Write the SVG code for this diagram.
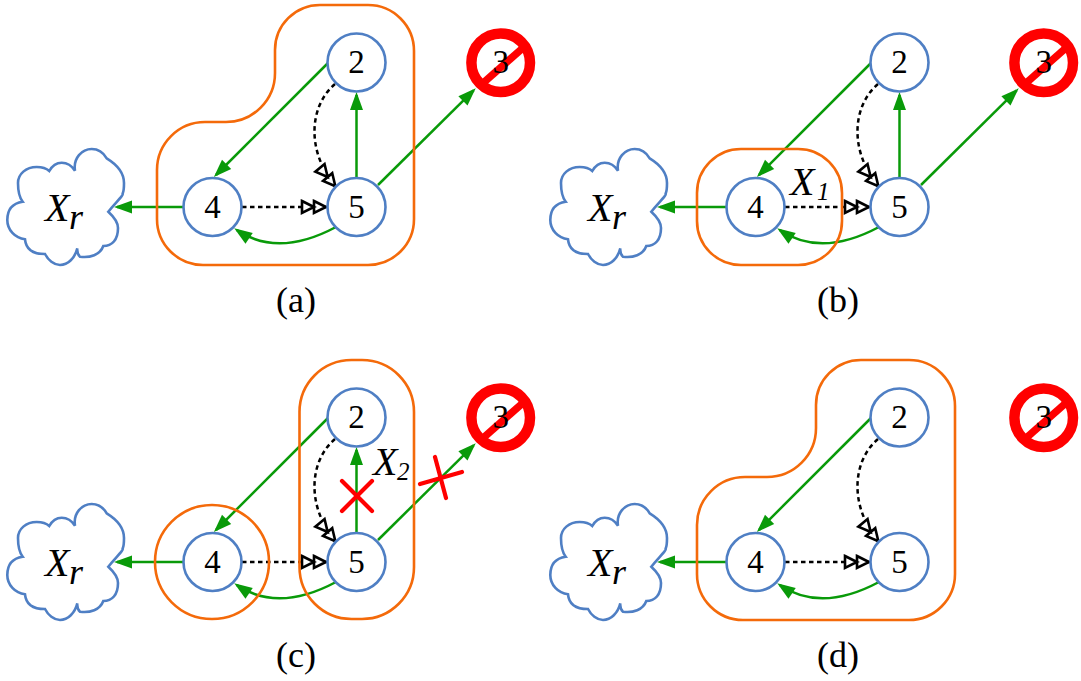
<svg xmlns="http://www.w3.org/2000/svg" xmlns:xlink="http://www.w3.org/1999/xlink" width="1081" height="681" viewBox="0 0 1081 681">
<style>
text{font-family:"Liberation Serif","Times New Roman",serif;fill:#000}
.n{font-size:33px;text-anchor:middle}
.cap{font-size:36px;text-anchor:middle}
.v{font-size:40px;font-style:italic}
.s{font-size:36px;font-style:italic}
.t{font-size:25px;font-style:italic}
.c{fill:#fff;stroke:#4f7fc4;stroke-width:2.6}
.o{fill:none;stroke:#f46a0a;stroke-width:2.6}
.g{fill:none;stroke:#099a09;stroke-width:2.5;marker-end:url(#ga)}
.d{fill:none;stroke:#000;stroke-width:2.5;stroke-dasharray:4.500 3.500;marker-end:url(#da)}
.r{fill:none;stroke:#f00;stroke-width:4.2;stroke-linecap:round}
.ring{fill:none;stroke:#f00;stroke-width:10.5}
.sl{stroke:#f00;stroke-width:7.5}
</style>
<defs>
<marker id="ga" markerUnits="userSpaceOnUse" markerWidth="20" markerHeight="16" refX="15" refY="6.500" orient="auto" overflow="visible"><path d="M0,0L18,6.500L0,13Z" fill="#099a09"/></marker>
<marker id="da" markerUnits="userSpaceOnUse" markerWidth="30" markerHeight="16" refX="26" refY="7" orient="auto" overflow="visible"><path d="M1,1L13,7L1,13ZM13,1L25,7L13,13Z" fill="#fff" stroke="#000" stroke-width="2.600"/></marker>
<path id="cloud" fill="#fff" stroke="#4f7fc4" stroke-width="2.6" d="M75,170.7C73,158 82,149 91.7,149C98,149 103,152 106.7,158.3C116,164 124,172 124,183C124,189 124,191 122.7,193.3C124,195 116,202 108.3,211.7C113,216 118,222 118,228C118,240 112,246 103.3,246C100,255 90,258 80,256.7C78,255 77,252 77.3,248.3C75,258 68,265 60,265C54,265 48,260 45,254C33,254 26,250 25,239.3C15,238 7.3,230 7.3,220C7.3,208 14,203 22.7,201.7C19,197 18,190 18,183C18,174 26,167 36.7,167C42,167 46,168 49.3,171C52,166 56,162.7 61.7,162.7C67,162.7 72,166 75,170.7Z"/>
</defs>
<g id="connectors">
<path class="g" d="M184,207H117"/><path class="g" d="M328,63L216,175"/><path class="g" d="M356.5,178V95"/><path class="g" d="M378,185L473.6,90.4"/>
<path class="g" d="M336,227Q278,258 236.7,230"/><path class="d" d="M242,207H327"/><path class="d" d="M335,84C310,105 305,150 336,187"/>
<path class="g" d="M727,207H660"/><path class="g" d="M871,63L759,175"/><path class="g" d="M899.5,178V95"/><path class="g" d="M921,185L1016.6,90.4"/>
<path class="g" d="M879,227Q821,258 779.7,230"/><path class="d" d="M785,207H870"/><path class="d" d="M878,84C853,105 848,150 879,187"/>
<path class="g" d="M184,562H117"/><path class="g" d="M328,418L216,530"/><path class="g" d="M356.5,533V450"/><path class="g" d="M378,540L473.6,445.4"/>
<path class="g" d="M336,582Q278,613 236.7,585"/><path class="d" d="M242,562H327"/><path class="d" d="M335,439C310,460 305,505 336,542"/>
<path class="g" d="M727,562H660"/><path class="g" d="M871,418L759,530"/><path class="d" d="M785,562H870"/>
<path class="g" d="M879,582Q821,613 779.7,585"/><path class="d" d="M878,439C853,460 848,505 879,542"/>
</g>
<g id="regions">
<path class="o" d="M320,5H368A46,46 0 0 1 414,51V219A46,46 0 0 1 368,265H203A46,46 0 0 1 157,219V170A48,48 0 0 1 205,122H226A49,49 0 0 0 275,73V50A45,45 0 0 1 320,5Z"/>
<rect class="o" x="697" y="149" width="145" height="116" rx="44"/>
<circle class="o" cx="212" cy="562" r="57"/>
<rect class="o" x="299.500" y="360" width="114.500" height="259" rx="52"/>
<path class="o" d="M861,360H909A46,46 0 0 1 955,406V574A46,46 0 0 1 909,620H743A46,46 0 0 1 697,574V525A48,48 0 0 1 745,477H767A49,49 0 0 0 816,428V405A45,45 0 0 1 861,360Z"/>
</g>
<g id="a-cloud"><use xlink:href="#cloud" href="#cloud"/><text class="v" x="45" y="221">X</text><text class="s" x="69" y="229">r</text></g>
<g id="a-4"><circle class="c" cx="212.500" cy="207" r="29"/><text class="n" x="212.500" y="218">4</text></g>
<g id="a-5"><circle class="c" cx="356.500" cy="207" r="29"/><text class="n" x="356.500" y="218">5</text></g>
<g id="a-2"><circle class="c" cx="356.500" cy="62.500" r="29"/><text class="n" x="356.500" y="73">2</text></g>
<g id="a-3"><circle class="ring" cx="500.700" cy="62.700" r="29.300"/><path class="sl" d="M482,84L524,47"/><text class="n" x="500.700" y="73">3</text></g>
<text class="cap" x="296" y="312">(a)</text>
<g id="b-cloud"><use xlink:href="#cloud" href="#cloud" x="543"/><text class="v" x="588" y="221">X</text><text class="s" x="612" y="229">r</text></g>
<g id="b-4"><circle class="c" cx="755.500" cy="207" r="29"/><text class="n" x="755.500" y="218">4</text></g>
<g id="b-5"><circle class="c" cx="899.500" cy="207" r="29"/><text class="n" x="899.500" y="218">5</text></g>
<g id="b-2"><circle class="c" cx="899.500" cy="62.500" r="29"/><text class="n" x="899.500" y="73">2</text></g>
<g id="b-3"><circle class="ring" cx="1043.700" cy="62.700" r="29.300"/><path class="sl" d="M1025,84L1067,47"/><text class="n" x="1043.700" y="73">3</text></g>
<text class="v" x="790" y="195">X</text><text class="t" x="817" y="200">1</text>
<text class="cap" x="838" y="312">(b)</text>
<g id="c-cloud"><use xlink:href="#cloud" href="#cloud" y="355"/><text class="v" x="45" y="576">X</text><text class="s" x="69" y="584">r</text></g>
<g id="c-4"><circle class="c" cx="212.500" cy="562" r="29"/><text class="n" x="212.500" y="573">4</text></g>
<g id="c-5"><circle class="c" cx="356.500" cy="562" r="29"/><text class="n" x="356.500" y="573">5</text></g>
<g id="c-2"><circle class="c" cx="356.500" cy="417.500" r="29"/><text class="n" x="356.500" y="428">2</text></g>
<g id="c-3"><circle class="ring" cx="500.700" cy="417.700" r="29.300"/><path class="sl" d="M482,439L524,402"/><text class="n" x="500.700" y="428">3</text></g>
<text class="v" x="373" y="475">X</text><text class="t" x="397" y="480">2</text>
<path class="r" d="M342,481L372,511M372,481L342,511M420,484L462,472M435,457L446,498"/>
<text class="cap" x="296" y="667">(c)</text>
<g id="d-cloud"><use xlink:href="#cloud" href="#cloud" x="543" y="355"/><text class="v" x="588" y="576">X</text><text class="s" x="612" y="584">r</text></g>
<g id="d-4"><circle class="c" cx="755.500" cy="562" r="29"/><text class="n" x="755.500" y="573">4</text></g>
<g id="d-5"><circle class="c" cx="899.500" cy="562" r="29"/><text class="n" x="899.500" y="573">5</text></g>
<g id="d-2"><circle class="c" cx="899.500" cy="417.500" r="29"/><text class="n" x="899.500" y="428">2</text></g>
<g id="d-3"><circle class="ring" cx="1043.700" cy="417.700" r="29.300"/><path class="sl" d="M1025,439L1067,402"/><text class="n" x="1043.700" y="428">3</text></g>
<text class="cap" x="838" y="667">(d)</text>
</svg>
